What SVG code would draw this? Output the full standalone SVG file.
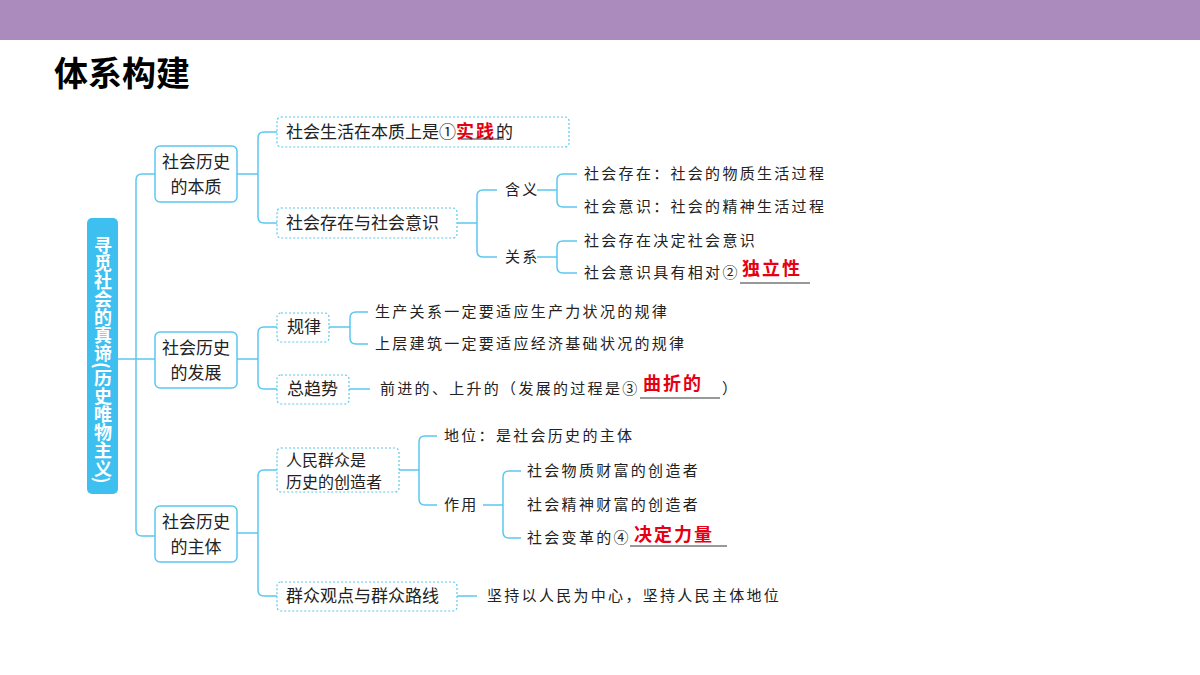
<svg xmlns="http://www.w3.org/2000/svg" width="1200" height="675" viewBox="0 0 1200 675">
<defs><style>
text{font-family:"Noto Sans CJK SC","Noto Sans",sans-serif;fill:#222}
.n1 rect{fill:#fff;stroke:#5bc8f0;stroke-width:1.5}
.n1 text{font-size:17px;text-anchor:middle}
.n2 rect{fill:#fff;stroke:#5bc8f0;stroke-width:1.2;stroke-dasharray:2 2}
.n2 text{font-size:17px}
.lf{font-size:15px;letter-spacing:2.3px}
.red{fill:#e60012;font-weight:bold;font-size:18px;letter-spacing:2px}
#c path{fill:none;stroke:#5bc8f0;stroke-width:1.5}
.ul{stroke:#333;stroke-width:1}
</style></defs>
<rect x="0" y="0" width="1200" height="40" fill="#ab8bbd"/>
<text x="54" y="86" style="font-size:34px;font-weight:bold;fill:#000">体系构建</text>
<g id="c">
<path d="M118 359H136M155 174H142Q136 174 136 180V530Q136 536 142 536H155M136 359H155"/>
<path d="M237 174H258M277 132H264Q258 132 258 138V217Q258 223 264 223H277"/>
<path d="M457 223H477M497 190H483Q477 190 477 196V251Q477 257 483 257H497"/>
<path d="M537 190H557M577 174H563Q557 174 557 180V201Q557 207 563 207H577"/>
<path d="M537 257H557M577 241H563Q557 241 557 247V267Q557 273 563 273H577"/>
<path d="M237 359H258M277 327H264Q258 327 258 333V383Q258 389 264 389H277"/>
<path d="M329 327H350M368 312H356Q350 312 350 318V338Q350 344 356 344H368"/>
<path d="M349 389H370"/>
<path d="M237 533H258M277 470H264Q258 470 258 476V590Q258 596 264 596H277"/>
<path d="M399 470H419M437 436H425Q419 436 419 442V499Q419 505 425 505H437"/>
<path d="M483 505H503M521 471H509Q503 471 503 477V532Q503 538 509 538H521"/>
<path d="M457 596H477"/>
</g>
<g id="root"><rect x="87" y="218" width="31" height="276" rx="5" fill="#3dbff0"/>
<text x="103" y="236" style="writing-mode:vertical-rl;font-size:18px;font-weight:bold;fill:#fff">寻觅社会的真谛(历史唯物主义)</text></g>
<g id="b1" class="n1"><rect x="155" y="146" width="82" height="56" rx="5"/><text x="196" y="168">社会历史</text><text x="196" y="193">的本质</text></g>
<g id="b2" class="n1"><rect x="155" y="332" width="82" height="56" rx="5"/><text x="196" y="354">社会历史</text><text x="196" y="379">的发展</text></g>
<g id="b3" class="n1"><rect x="155" y="506" width="82" height="56" rx="5"/><text x="196" y="528">社会历史</text><text x="196" y="553">的主体</text></g>
<g id="s1" class="n2"><rect x="277" y="117" width="292" height="30" rx="4"/><text x="286" y="138">社会生活在本质上是①<tspan class="red">实践</tspan>的</text><line class="ul" x1="461" y1="139" x2="504" y2="139"/></g>
<g id="s2" class="n2"><rect x="277" y="208" width="180" height="30" rx="4"/><text x="286" y="229">社会存在与社会意识</text></g>
<g id="s3" class="n2"><rect x="277" y="313" width="52" height="29" rx="4"/><text x="287" y="333">规律</text></g>
<g id="s4" class="n2"><rect x="277" y="375" width="72" height="29" rx="4"/><text x="287" y="395">总趋势</text></g>
<g id="s5" class="n2"><rect x="277" y="448" width="122" height="44" rx="4"/><text x="286" y="466" style="font-size:16px">人民群众是</text><text x="286" y="488" style="font-size:16px">历史的创造者</text></g>
<g id="s6" class="n2"><rect x="277" y="582" width="180" height="29" rx="4"/><text x="286" y="602">群众观点与群众路线</text></g>
<g id="leaves" class="lf">
<text x="505" y="195" class="lf">含义</text>
<text x="505" y="262" class="lf">关系</text>
<text x="584" y="179" class="lf">社会存在：社会的物质生活过程</text>
<text x="584" y="212" class="lf">社会意识：社会的精神生活过程</text>
<text x="584" y="246" class="lf">社会存在决定社会意识</text>
<text x="584" y="278" class="lf">社会意识具有相对②</text><text x="742" y="275" class="red">独立性</text>
<line class="ul" x1="740" y1="283" x2="810" y2="283"/>
<text x="375" y="317" class="lf">生产关系一定要适应生产力状况的规律</text>
<text x="375" y="349" class="lf">上层建筑一定要适应经济基础状况的规律</text>
<text x="380" y="394" class="lf">前进的、上升的（发展的过程是③</text><text x="643" y="390" class="red">曲折的</text><text x="722" y="394" class="lf">）</text>
<line class="ul" x1="640" y1="398" x2="720" y2="398"/>
<text x="444" y="441" class="lf">地位：是社会历史的主体</text>
<text x="444" y="510" class="lf">作用</text>
<text x="527" y="476" class="lf">社会物质财富的创造者</text>
<text x="527" y="510" class="lf">社会精神财富的创造者</text>
<text x="527" y="543" class="lf">社会变革的④</text><text x="634" y="541" class="red">决定力量</text>
<line class="ul" x1="630" y1="546" x2="727" y2="546"/>
<text x="487" y="601" class="lf">坚持以人民为中心，坚持人民主体地位</text>
</g>
</svg>
